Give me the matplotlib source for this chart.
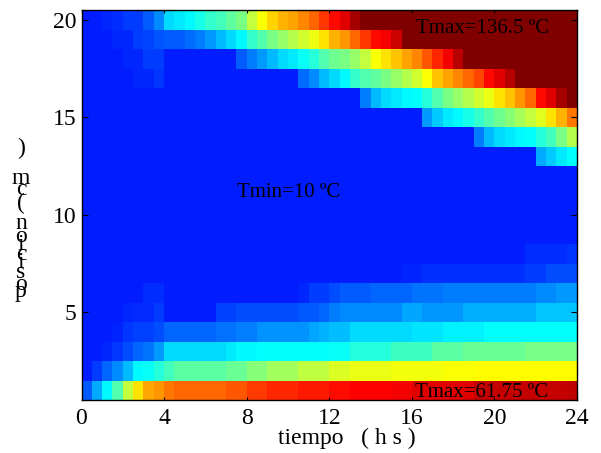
import numpy as np
import matplotlib
matplotlib.use("Agg")
import matplotlib.pyplot as plt
import matplotlib.colors as mcolors

W, H = 601, 453
FONT = "Liberation Serif"

# temperatura (ºC) por celda, cada fila = 48 medias horas, clim 0-65
row_20 = [10, 10, 10.6, 11, 12, 12, 14, 17, 22, 23, 24, 26, 28, 29, 31, 33, 38, 42, 45, 47, 48, 50, 52, 55, 58, 60, 63, 65,
          68, 71, 74, 77, 80, 83, 87, 91, 95, 99, 103, 107, 111, 115, 119, 123, 127, 130, 133, 136.5]
row_19 = [10, 10, 10, 10.6, 10.6, 12, 12.5, 13.5, 14, 14, 15, 16, 18, 20, 22, 24, 28, 30, 33, 35, 37, 39, 41, 44, 47, 49, 52, 55, 58, 59, 61, 65,
          67, 69, 72, 75, 78, 81, 84, 87, 90, 93, 96, 99, 102, 105, 108, 111]
row_18 = [10, 10, 10, 10, 10.6, 10.6, 12, 12] + [10] * 7 + [14, 16, 18, 20, 22, 23, 25, 27, 30, 32, 33, 35, 38, 42, 44, 46, 48, 50, 53, 56, 59, 62,
          65, 66, 68, 70, 72, 74, 76, 78, 80, 82, 84]
row_17 = [10] * 5 + [10.6, 10.6, 11.5] + [10] * 13 + [15, 17, 20, 22, 24, 28, 30, 31, 33, 35, 37, 39, 42, 46, 48, 50, 52, 54, 58, 60, 62,
          65, 66, 67, 69, 70, 72]
row_16 = [10] * 27 + [16, 20, 22, 23, 24, 24.5, 27, 30, 33, 35, 37, 39, 41, 44, 46, 49, 52, 58, 60, 63, 65]
row_15 = [10] * 33 + [18, 21, 23, 24, 26, 28, 30, 32, 34, 36, 38, 40, 44, 47, 51]
row_14 = [10] * 38 + [16, 20, 22, 23, 24, 24.5, 27, 29, 33, 37]
row_13 = [10] * 44 + [19, 21, 23, 24.5]
row_12 = [10] * 48
row_11 = [10] * 48
row_10 = [10] * 48
row_9 = [10] * 48
row_8 = [10] * 43 + [11, 11, 11, 11, 11.5]
row_7 = [10] * 31 + [10.5, 10.5] + [11.2] * 10 + [12, 12, 13, 13, 13]
row_6 = [10] * 6 + [11, 11] + [10] * 13 + [10.6, 12, 12, 13, 14, 14, 14, 14.7, 14.7, 14.7, 14.7, 15.5, 15.5, 15.5] + [16] * 9 + [17, 17, 18, 18]
row_5 = [10, 10, 10, 10, 10.6, 10.8, 10.8, 12, 10, 10, 10, 10, 10, 12.2, 12.2, 13, 13, 13, 13, 13, 13, 13.8, 13.8, 14.6, 16,
         17, 17, 17, 17, 17, 17, 18.7, 18.7, 17.9, 17.9, 17.9, 17.9, 19.2, 19.2, 19.2, 19.2, 19.2, 19.2, 19.2, 20.8, 20.8, 20.8, 20.8]
row_4 = [10, 10, 10, 10.4, 11.5, 12.2, 12.2, 13, 14.6, 14.6, 14.6, 14.6, 14.6, 15.4, 15.4, 16.2, 16.2, 17.5, 17.5, 17.5, 17.5, 17.5, 18.7, 19.5,
         20.3, 20.3, 22, 22, 22, 22, 22, 22, 22.7, 22.7, 22.7, 23.5, 23.5, 23.5, 23.5, 24.4, 24.4, 24.4, 24.4, 24.4, 24.4, 24.4, 24.4, 24.4]
row_3 = [10, 10, 10.6, 11.6, 13, 14.6, 15.5, 18, 22, 22, 22, 22, 22, 22, 23, 24, 24, 24.4, 24.4, 24.4, 24.4, 24.4, 24.4, 24.6,
         25, 25, 26.8, 26.8, 26.8, 26.8, 28.8, 28.8, 28.8, 28.8, 30.8, 30.8, 30.8, 31.8, 31.8, 31.8, 31.8, 31.8, 31.8, 32.8, 32.8, 32.8, 32.8, 32.8]
row_2 = [10, 12, 14.6, 17, 20, 24, 25, 27, 29, 30.8, 30.8, 30.8, 30.8, 30.8, 31.8, 31.8, 33.8, 33.8, 35.8, 35.8, 35.8, 37.8, 37.8, 37.8,
         39.8, 39.8, 40.8, 40.8, 40.8, 40.8, 41.5, 41.5, 41.5, 41.5, 41.5, 42, 42, 42, 42.3, 42.3, 42.3, 42.3, 42.3, 42.3, 42.3, 42.3, 42.3, 42.3]
row_1 = [14, 19, 24, 30, 38, 44, 47.8, 49, 51, 52, 52, 52, 52, 52, 53, 53, 54.8, 54.8, 56, 56, 56, 57, 57, 57,
         57.8, 57.8, 58.5, 58.5, 58.5, 58.5, 59, 59, 60, 60, 60, 60, 60, 60, 61.4, 61.4, 61.4, 61.4, 61.4, 61.4, 61.4, 61.4, 61.4, 61.75]

rows = [row_1, row_2, row_3, row_4, row_5, row_6, row_7, row_8, row_9, row_10,
        row_11, row_12, row_13, row_14, row_15, row_16, row_17, row_18, row_19, row_20]

x_ticks = [0, 4, 8, 12, 16, 20, 24]
y_ticks = [5, 10, 15, 20]
ylabel_chars = ["p", "o", "s", "i", "c", "i", "o", "n", "(", "c", "m", ")"]
ylabel_y_px = [292, 285, 272, 262, 255, 245, 237, 223, 203, 190, 178, 148]

# jet tipo matlab: cian puro y amarillo puro
jet_ml = mcolors.LinearSegmentedColormap.from_list("jet_ml", [
    (0.0, (0, 0, 0.5)),
    (0.125, (0, 0, 1)),
    (0.375, (0, 1, 1)),
    (0.65, (1, 1, 0)),
    (0.9, (1, 0, 0)),
    (1.0, (0.5, 0, 0)),
], N=512)

temp = np.array(rows)
t_edges = np.arange(temp.shape[1] + 1) * 0.5
pos_edges = np.arange(temp.shape[0] + 1) + 0.5

fig = plt.figure(figsize=(W / 100, H / 100), dpi=100)
ax = fig.add_axes([81.5 / W, 1 - 400 / H, 495.5 / W, 390 / H])
ax.pcolormesh(t_edges, pos_edges, temp, cmap=jet_ml, vmin=0, vmax=65, shading="flat")

ax.set_xlim(0, 24)
ax.set_ylim(0.5, 20.5)
ax.set_xticks(x_ticks)
ax.set_yticks(y_ticks)
ax.tick_params(axis="x", direction="in", top=True, length=2.5, width=0.8, pad=6, labelsize=17)
ax.tick_params(axis="y", direction="in", right=True, length=4, width=0.8, pad=3.5, labelsize=17)
for lab in ax.get_xticklabels() + ax.get_yticklabels():
    lab.set_fontfamily(FONT)
for sp in ax.spines.values():
    sp.set_linewidth(1.0)

# anotaciones
ax.text(16.18, 19.55, "Tmax=136.5 ºC", family=FONT, fontsize=15, va="center", ha="left")
ax.text(7.52, 11.13, "Tmin=10 ºC", family=FONT, fontsize=15, va="center", ha="left")
ax.text(16.14, 0.87, "Tmax=61.75 ºC", family=FONT, fontsize=15, va="center", ha="left")

fig.text(347 / W, 1 - 438 / H, "tiempo   ( h s )", family=FONT, fontsize=17, ha="center", va="center")
for ch, yp in zip(ylabel_chars, ylabel_y_px):
    fig.text(21 / W, 1 - yp / H, ch, family=FONT, fontsize=17, ha="center", va="center")

fig.savefig("out.png", dpi=100)
